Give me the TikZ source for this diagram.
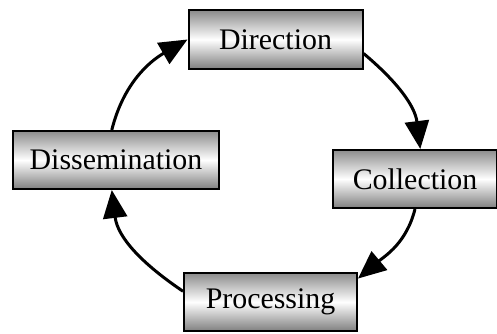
\documentclass[tikz,border=0pt]{standalone}
\usepackage{fontspec}
\setmainfont{Liberation Serif}
\usetikzlibrary{arrows.meta}

\begin{document}
\begin{tikzpicture}[x=1bp,y=1bp,
    stage/.style={draw,line width=2bp,minimum height=58bp,inner sep=0pt,
      top color=black!45,bottom color=black!50,middle color=white,
      font=\fontsize{30}{36}\selectfont},
    flow/.style={line width=3bp,-{Triangle[length=28bp,width=24bp]}}]
		\useasboundingbox (0,0) rectangle (497,333);
		\node[stage,minimum width=174bp] (dir)  at (275.5,293.5) {Direction};
		\node[stage,minimum width=164bp] (col)  at (415,154) {Collection};
		\node[stage,minimum width=173bp] (proc) at (270.5,31) {Processing};
		\node[stage,minimum width=206bp] (diss) at (116,173) {Dissemination};
		% the cycle
		\draw[flow] (dir.-9)   to[out=-40,in=97]  (col.80);
		\draw[flow] (col.south) to[out=-104,in=40] (proc.15);
		\draw[flow] (proc.173) to[out=146,in=-83]  (diss.-98);
		\draw[flow] (diss.98)  to[out=76,in=210]   (dir.west);
\end{tikzpicture}
\end{document}
